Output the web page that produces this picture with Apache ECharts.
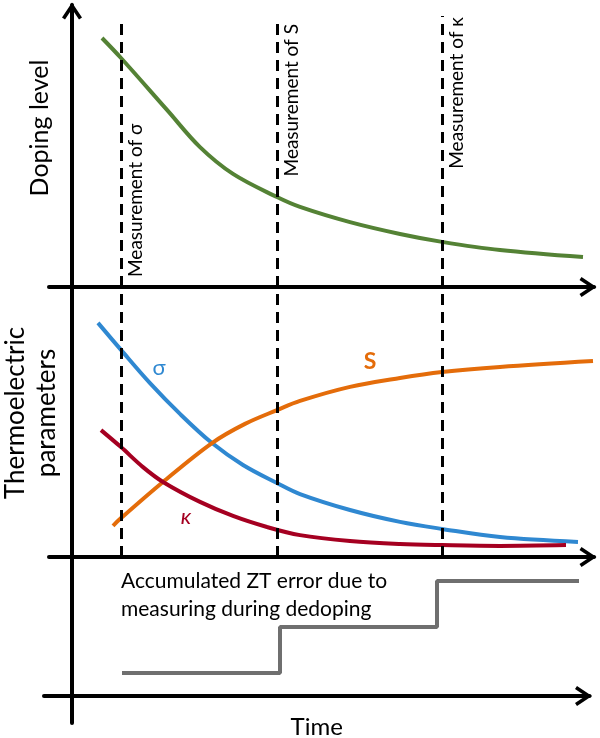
<!DOCTYPE html>
<html>
<head>
<meta charset="utf-8">
<script src="https://cdn.jsdelivr.net/npm/echarts@6.0.0/dist/echarts.min.js"></script>
<style>
  html, body { margin: 0; padding: 0; background: #fff; }
  #chart { width: 600px; height: 738px; }
</style>
</head>
<body>
<div id="chart"></div>
<script>
// doping level (top panel), time is in arbitrary units, 0 = where the y axis sits
const dopingTime = [0.6, 0.98, 1.9, 2.56, 3.22, 4.1, 4.56, 5.56, 6.56, 7.4, 8.56, 10.22];
const dopingLevel = [8.83, 8.12, 6.28, 4.96, 4.01, 3.19, 2.84, 2.30, 1.88, 1.60, 1.31, 1.06];

// thermoelectric parameters (middle panel)
const sigmaTime = [0.52, 0.98, 1.56, 2.16, 2.8, 3.42, 4.1, 4.56, 5.56, 6.56, 7.4, 8.56, 10.12];
const sigmaValue = [8.67, 7.67, 6.44, 5.30, 4.22, 3.41, 2.74, 2.33, 1.74, 1.30, 1.04, 0.74, 0.56];
const seebeckTime = [0.82, 0.98, 1.82, 2.8, 3.46, 4.1, 4.56, 5.56, 6.56, 7.4, 8.56, 10.42];
const seebeckValue = [1.15, 1.44, 2.78, 4.22, 4.93, 5.44, 5.78, 6.30, 6.63, 6.85, 7.04, 7.26];
const kappaTime = [0.58, 0.98, 1.42, 1.82, 2.56, 3.22, 3.9, 4.56, 5.56, 6.56, 7.4, 8.56, 9.88];
const kappaValue = [4.70, 4.07, 3.33, 2.78, 2.04, 1.52, 1.11, 0.81, 0.59, 0.48, 0.44, 0.41, 0.44];

// accumulated ZT error (bottom panel), drawn as steps
const stepTime = [1.0, 4.16, 7.3, 10.14];
const stepLevel = [1, 3, 5, 5];

// the three measurements (dashed lines)
const measureTime = [0.98, 4.1, 7.4];
const measureTop = [9.36, 9.36, 9.61]; // where the dash starts in the top panel
const measureLabel = ['Measurement of σ', 'Measurement of S', 'Measurement of κ'];

// curve names + where their letters sit
const curveNames = ['σ', 'S', 'κ'];
const curveLabelAt = [[1.74, 7.0], [5.96, 7.22], [2.28, 1.48]];

const noteText = 'Accumulated ZT error due to\nmeasuring during dedoping';
const noteAt = [0.98, 4.39];

const zip = (xs, ys) => xs.map((x, i) => [x, ys[i]]);

// open chevron arrow head, pointing up (echarts rotates it)
const ARROW = 'path://M10,0L20,15L17,17L10,6.5L3,17L0,15Z';

function axisLine(withArrow) {
  return {
    show: true,
    onZero: true,
    symbol: withArrow ? ['none', ARROW] : 'none',
    symbolSize: [20, 17],
    symbolOffset: [0, -6],
    lineStyle: { color: '#000', width: 4 }
  };
}
const noDeco = {
  axisTick: { show: false },
  axisLabel: { show: false },
  splitLine: { show: false },
  nameMoveOverlap: false
};

const dashStyle = { color: '#000', width: 3, type: [11, 7] };

function curve(color) {
  return { smooth: 0.35, symbol: 'none', lineStyle: { color: color, width: 4 } };
}

function curveMark(i, color, extra) {
  return {
    symbol: 'circle', symbolSize: 0, silent: true, animation: false,
    data: [{ coord: curveLabelAt[i] }],
    label: Object.assign({
      show: true, position: 'inside', formatter: curveNames[i],
      color: color, fontSize: 22, fontFamily: 'Lato'
    }, extra || {})
  };
}

const option = {
  backgroundColor: '#fff',
  animation: false,
  textStyle: { fontFamily: 'Lato' },
  // outerBoundsMode none: v6 would otherwise shrink grids to fit the axis names
  grid: [
    { left: 49, right: 6, top: 5, height: 282, outerBoundsMode: 'none' },   // doping
    { left: 49, right: 6, top: 287, height: 270, outerBoundsMode: 'none' }, // thermoelectric
    { left: 44, right: 10.5, top: 557, height: 166, outerBoundsMode: 'none' } // ZT error
  ],
  // name gaps count from the grid edge, not from the onZero line, hence the negative ones
  xAxis: [
    Object.assign({ type: 'value', gridIndex: 0, min: -0.46, max: 10.44, axisLine: axisLine(true) }, noDeco),
    Object.assign({ type: 'value', gridIndex: 1, min: -0.46, max: 10.44, axisLine: axisLine(true) }, noDeco),
    Object.assign({
      type: 'value', gridIndex: 2, min: -0.56, max: 10.35, axisLine: axisLine(true),
      name: 'Time', nameLocation: 'middle', nameGap: -8,
      nameTextStyle: { fontSize: 24, color: '#000' }
    }, noDeco)
  ],
  yAxis: [
    Object.assign({
      type: 'value', gridIndex: 0, min: 0, max: 10, axisLine: axisLine(true),
      name: 'Doping level', nameLocation: 'middle', nameRotate: 90, nameGap: -3,
      nameTextStyle: { fontSize: 25, color: '#000', padding: [0, 0, 0, 36] }
    }, noDeco),
    Object.assign({
      type: 'value', gridIndex: 1, min: 0, max: 10, axisLine: axisLine(false),
      name: 'Thermoelectric\nparameters', nameLocation: 'middle', nameRotate: 90, nameGap: -13,
      nameTextStyle: { fontSize: 26, lineHeight: 31, color: '#000', padding: [0, 0, 0, 18] }
    }, noDeco),
    Object.assign({ type: 'value', gridIndex: 2, min: -1.17, max: 6.04, axisLine: axisLine(false) }, noDeco)
  ],
  series: [
    Object.assign({
      name: 'Doping level',
      type: 'line', xAxisIndex: 0, yAxisIndex: 0,
      data: zip(dopingTime, dopingLevel),
      // dashed lines + their rotated labels (top panel part)
      markLine: {
        silent: true, symbol: 'none', animation: false,
        lineStyle: dashStyle,
        data: measureTime.map((t, i) => [
          {
            coord: [t, 0],
            label: {
              show: true,
              formatter: measureLabel[i],
              position: i === 0 ? 'insideStartBottom' : 'insideEndBottom',
              distance: i === 0 ? [10, 5] : [1, 5],
              color: '#000', fontSize: 19, fontFamily: 'Lato'
            }
          },
          { coord: [t, measureTop[i]] }
        ])
      }
    }, curve('#548235')),
    Object.assign({
      name: 'σ',
      type: 'line', xAxisIndex: 1, yAxisIndex: 1,
      data: zip(sigmaTime, sigmaValue),
      markPoint: curveMark(0, '#2f88d1'),
      // dashed lines carry on through the middle panel
      markLine: {
        silent: true, symbol: 'none', animation: false,
        lineStyle: dashStyle,
        label: { show: false },
        data: measureTime.map(t => [{ coord: [t, 0] }, { coord: [t, 10] }])
      }
    }, curve('#2f88d1')),
    Object.assign({
      name: 'S',
      type: 'line', xAxisIndex: 1, yAxisIndex: 1,
      data: zip(seebeckTime, seebeckValue),
      markPoint: curveMark(1, '#e46c0a', { fontWeight: 'bold', fontSize: 23 })
    }, curve('#e46c0a')),
    Object.assign({
      name: 'κ',
      type: 'line', xAxisIndex: 1, yAxisIndex: 1,
      data: zip(kappaTime, kappaValue),
      markPoint: curveMark(2, '#a50021', { fontStyle: 'italic' })
    }, curve('#a50021')),
    {
      name: 'ZT error',
      type: 'line', xAxisIndex: 2, yAxisIndex: 2,
      step: 'end', symbol: 'none',
      lineStyle: { color: '#6f6f6f', width: 4 },
      data: zip(stepTime, stepLevel),
      markPoint: {
        symbol: 'circle', symbolSize: 0, silent: true, animation: false,
        data: [{ coord: noteAt }],
        label: {
          show: true, position: 'right', distance: 0, align: 'left',
          formatter: noteText, color: '#000', fontSize: 21, lineHeight: 28, fontFamily: 'Lato'
        }
      }
    }
  ]
};

var chart = echarts.init(document.getElementById('chart'));
chart.setOption(option);
</script>
</body>
</html>
